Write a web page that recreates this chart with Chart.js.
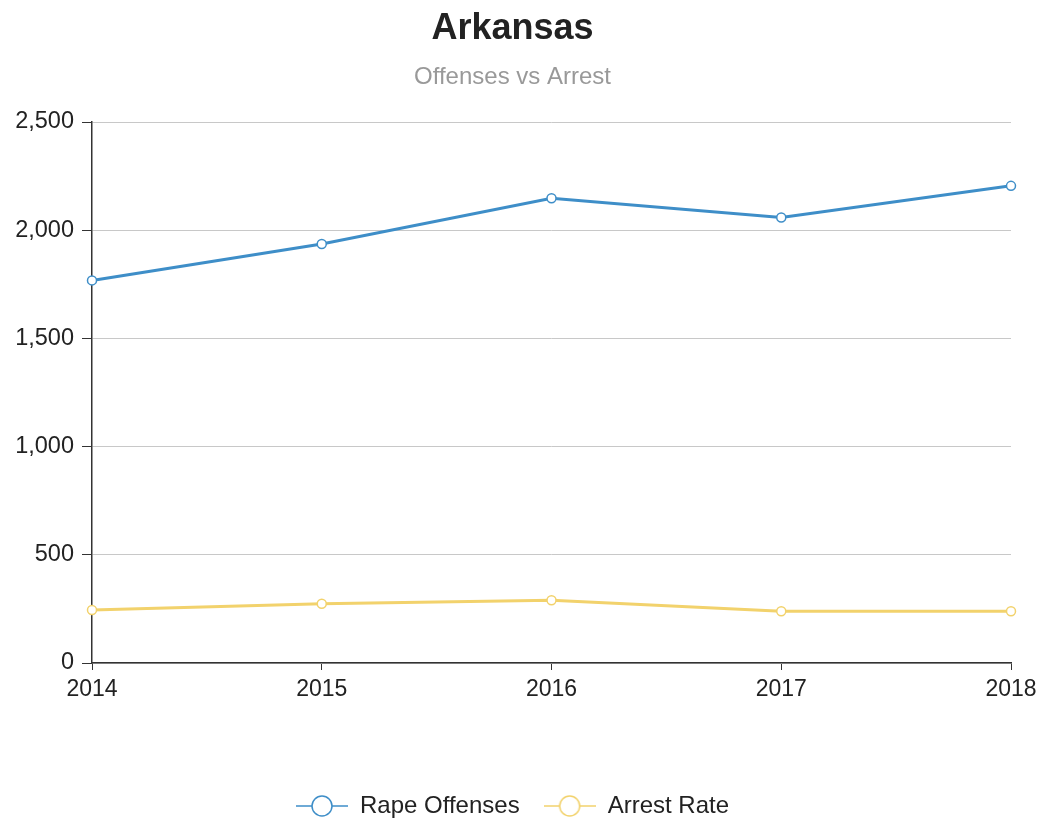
<!DOCTYPE html>
<html lang="en">
<head>
    <meta charset="UTF-8">
    <title>Arkansas - Offenses vs Arrest</title>
    <style>
        html, body {
            margin: 0;
            padding: 0;
            background: #fff;
        }
        #wrap {
            width: 1048px;
            height: 821px;
        }
    </style>
    <script src="https://cdn.jsdelivr.net/npm/chart.js"></script>
</head>
<body>
    <div id="wrap"><canvas id="chart" width="1048" height="821"></canvas></div>

    <script>
        // Data
        const years = ['2014', '2015', '2016', '2017', '2018'];
        const rapeOffenses = [1768, 1936, 2148, 2059, 2205];
        const arrestRate = [245, 274, 290, 239, 239];
        const yTicks = [0, 500, 1000, 1500, 2000, 2500];

        const blue = '#3e8ec8';
        const yellow = '#f2d26c';
        const font = "'Liberation Sans', Arial, sans-serif";

        // legend marker: short line with a hollow circle on it
        function legendMarker(color) {
            const c = document.createElement('canvas');
            c.width = 52;
            c.height = 24;
            const g = c.getContext('2d');
            g.strokeStyle = color;
            g.lineWidth = 1.5;
            g.beginPath();
            g.moveTo(0, 12);
            g.lineTo(52, 12);
            g.stroke();
            g.fillStyle = '#fff';
            g.beginPath();
            g.arc(26, 12, 10, 0, Math.PI * 2);
            g.fill();
            g.stroke();
            return c;
        }

        const ctx = document.getElementById('chart').getContext('2d');
        new Chart(ctx, {
            type: 'line',
            data: {
                labels: years,
                datasets: [{
                    label: 'Rape Offenses',
                    data: rapeOffenses,
                    borderColor: blue,
                    backgroundColor: '#fff',
                    borderWidth: 3,
                    pointRadius: 4.5,
                    pointBorderWidth: 1.5,
                    tension: 0
                }, {
                    label: 'Arrest Rate',
                    data: arrestRate,
                    borderColor: yellow,
                    backgroundColor: '#fff',
                    borderWidth: 3,
                    pointRadius: 4.5,
                    pointBorderWidth: 1.5,
                    tension: 0
                }]
            },
            options: {
                responsive: false,
                animation: false,
                layout: {
                    padding: { left: 14, right: 37, top: 0, bottom: -7 }
                },
                scales: {
                    x: {
                        offset: false,
                        afterFit: s => { s.height = 107; },
                        grid: {
                            drawOnChartArea: false,
                            tickLength: 7,
                            tickColor: '#333'
                        },
                        border: { color: '#333', width: 1.5 },
                        ticks: {
                            color: '#222',
                            font: { family: font, size: 23 },
                            padding: 6,
                            maxRotation: 0
                        }
                    },
                    y: {
                        min: 0,
                        max: 2500,
                        afterFit: s => { s.width = 78; },
                        afterBuildTicks: axis => {
                            axis.ticks = yTicks.map(v => ({ value: v }));
                        },
                        grid: {
                            color: '#c8c8c8',
                            tickLength: 10,
                            tickColor: '#333'
                        },
                        border: { color: '#333', width: 1.5 },
                        ticks: {
                            color: '#222',
                            font: { family: font, size: 23.5 },
                            padding: 8,
                            callback: v => v.toLocaleString('en-US')
                        }
                    }
                },
                plugins: {
                    title: {
                        display: true,
                        text: 'Arkansas',
                        color: '#222',
                        font: { family: font, size: 36, weight: 'bold' },
                        padding: { top: 7, bottom: 0 }
                    },
                    subtitle: {
                        display: true,
                        text: 'Offenses vs Arrest',
                        color: '#999',
                        font: { family: font, size: 24 },
                        padding: { top: 13, bottom: 30 }
                    },
                    legend: {
                        position: 'bottom',
                        labels: {
                            color: '#222',
                            font: { family: font, size: 24 },
                            usePointStyle: true,
                            pointStyleWidth: 52,
                            padding: 24,
                            generateLabels: chart => chart.data.datasets.map((ds, i) => ({
                                text: ds.label,
                                fontColor: '#222',
                                pointStyle: legendMarker(ds.borderColor),
                                strokeStyle: ds.borderColor,
                                fillStyle: '#fff',
                                lineWidth: 0,
                                hidden: false,
                                datasetIndex: i
                            }))
                        }
                    },
                    tooltip: { enabled: false }
                }
            }
        });
    </script>
</body>
</html>
